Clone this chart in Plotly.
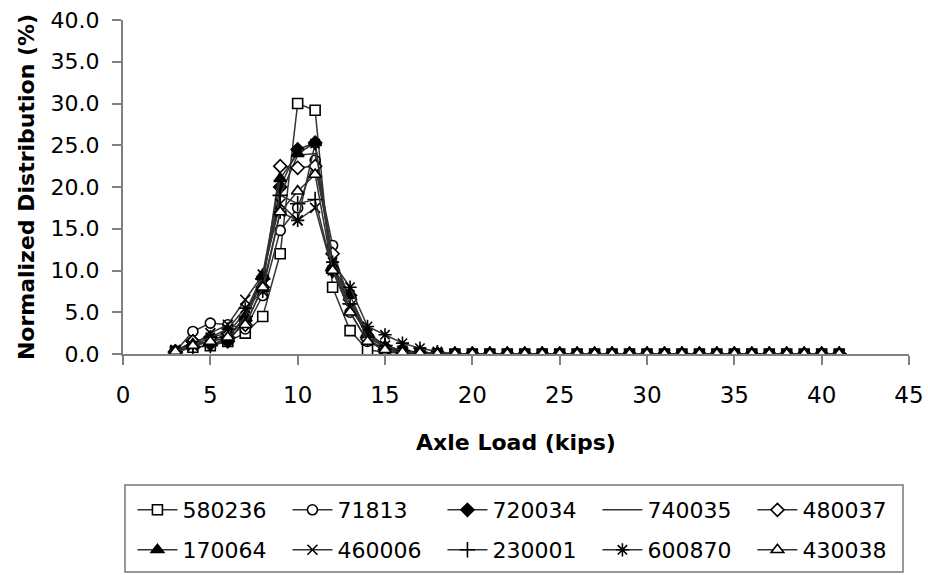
import plotly.graph_objects as go

# axle load bins (kips)
axle_load = list(range(3, 42))

tail = [0.0] * 24  # 18..41 kips, essentially zero

s580236 = [0.3, 0.8, 1.0, 1.5, 2.5, 4.5, 12.0, 30.0, 29.2, 8.0, 2.8, 0.5, 0.2, 0.1, 0.05] + tail
s71813 = [0.3, 2.7, 3.7, 3.5, 3.0, 7.0, 14.8, 17.5, 23.2, 13.0, 5.0, 1.5, 0.5, 0.2, 0.1] + tail
s720034 = [0.3, 1.5, 1.2, 1.5, 4.0, 9.0, 20.0, 24.5, 25.3, 10.0, 7.0, 2.0, 0.8, 0.3, 0.1] + tail
s740035 = [0.2, 1.0, 1.5, 2.5, 5.0, 9.5, 19.0, 23.8, 24.0, 10.5, 6.0, 2.5, 1.0, 0.4, 0.2] + tail
s480037 = [0.3, 1.5, 2.0, 2.5, 3.5, 8.0, 22.5, 22.3, 22.5, 12.0, 6.5, 1.8, 0.5, 0.2, 0.1] + tail
s170064 = [0.3, 1.2, 1.5, 2.0, 4.5, 9.5, 21.0, 24.0, 25.3, 10.5, 7.0, 2.5, 0.8, 0.3, 0.1] + tail
s460006 = [0.5, 1.0, 2.5, 3.5, 6.5, 9.5, 18.0, 16.0, 17.5, 10.0, 5.5, 2.5, 1.0, 0.4, 0.2] + tail
s230001 = [0.2, 0.8, 1.0, 2.0, 4.5, 9.0, 19.0, 18.0, 18.5, 10.0, 6.0, 2.0, 1.0, 0.4, 0.2] + tail
s600870 = [0.3, 1.0, 2.0, 3.0, 5.5, 7.5, 17.0, 16.0, 25.2, 11.0, 8.0, 3.3, 2.3, 1.3, 0.7] + [0.3] + tail[1:]
s430038 = [0.3, 1.0, 1.5, 2.0, 3.5, 8.0, 17.0, 19.5, 21.5, 10.0, 5.0, 1.5, 0.5, 0.2, 0.1] + tail

series_names = ['580236', '71813', '720034', '740035', '480037',
                '170064', '460006', '230001', '600870', '430038']
series_values = [s580236, s71813, s720034, s740035, s480037,
                 s170064, s460006, s230001, s600870, s430038]

# symbol, fill colour, size
styles = [
    ('square', 'white', 10),
    ('circle', 'white', 10),
    ('diamond', 'black', 10),
    (None, None, 0),
    ('diamond', 'white', 10),
    ('triangle-up', 'black', 11),
    ('x-thin-open', 'black', 10),
    ('cross-thin-open', 'black', 11),
    ('asterisk-open', 'black', 11),
    ('triangle-up', 'white', 11),
]

FONT = 'DejaVu Sans, Arial, sans-serif'

fig = go.Figure()
for i, (name, vals, (sym, fill, size)) in enumerate(zip(series_names, series_values, styles)):
    leg = 'legend' if i < 5 else 'legend2'
    if sym is None:
        fig.add_trace(go.Scatter(x=axle_load, y=vals, name=name, mode='lines', legend=leg,
                                 line=dict(color='#333333', width=1.5)))
    else:
        fig.add_trace(go.Scatter(
            x=axle_load, y=vals, name=name, mode='lines+markers', legend=leg,
            line=dict(color='#333333', width=1.5),
            marker=dict(symbol=sym, size=size, color=fill,
                        line=dict(color='black', width=1.6)),
        ))

leg_style = dict(
    orientation='h', x=0.012, xanchor='left', yanchor='middle', yref='container',
    entrywidth=100, entrywidthmode='pixels',
    borderwidth=0, bgcolor='rgba(0,0,0,0)',
    font=dict(family=FONT, size=22, color='black'),
    itemwidth=40,
)

fig.update_layout(
    width=928, height=575,
    margin=dict(l=123, r=19, t=20, b=221),
    plot_bgcolor='white', paper_bgcolor='white',
    font=dict(family=FONT, size=22, color='black'),
    showlegend=True,
    legend=dict(y=0.1130, **leg_style),
    legend2=dict(y=0.0435, **leg_style),
    shapes=[dict(type='rect', xref='paper', yref='paper',
                 x0=0.0025, x1=0.9924, y0=-0.3922, y1=-0.6527,
                 line=dict(color='#777777', width=1.5))],
    xaxis=dict(
        range=[0, 45], dtick=5, tick0=0, automargin=False,
        showline=True, linecolor='#808080', linewidth=2,
        ticks='outside', ticklen=9, tickcolor='#808080', tickwidth=1.5,
        ticklabelstandoff=10, tickfont=dict(size=23), ticklabeloverflow='allow',
        showgrid=False, zeroline=False,
        title=dict(text='<b>Axle Load (kips)</b>', standoff=28,
                   font=dict(family=FONT, size=22)),
    ),
    yaxis=dict(
        range=[0, 40], dtick=5, tick0=0, tickformat='.1f', automargin=False,
        showline=True, linecolor='#808080', linewidth=2,
        ticks='outside', ticklen=9, tickcolor='#808080', tickwidth=1.5,
        ticklabelstandoff=8, tickfont=dict(size=22), ticklabeloverflow='allow',
        showgrid=False, zeroline=False,
        title=dict(text='<b>Normalized Distribution (%)</b>', standoff=10,
                   font=dict(family=FONT, size=22)),
    ),
)

# drop the browser's default 8px body margin so the figure fills the window
fig.write_html('out.html', config={'displayModeBar': False},
               post_script="document.body.style.margin='0';")
